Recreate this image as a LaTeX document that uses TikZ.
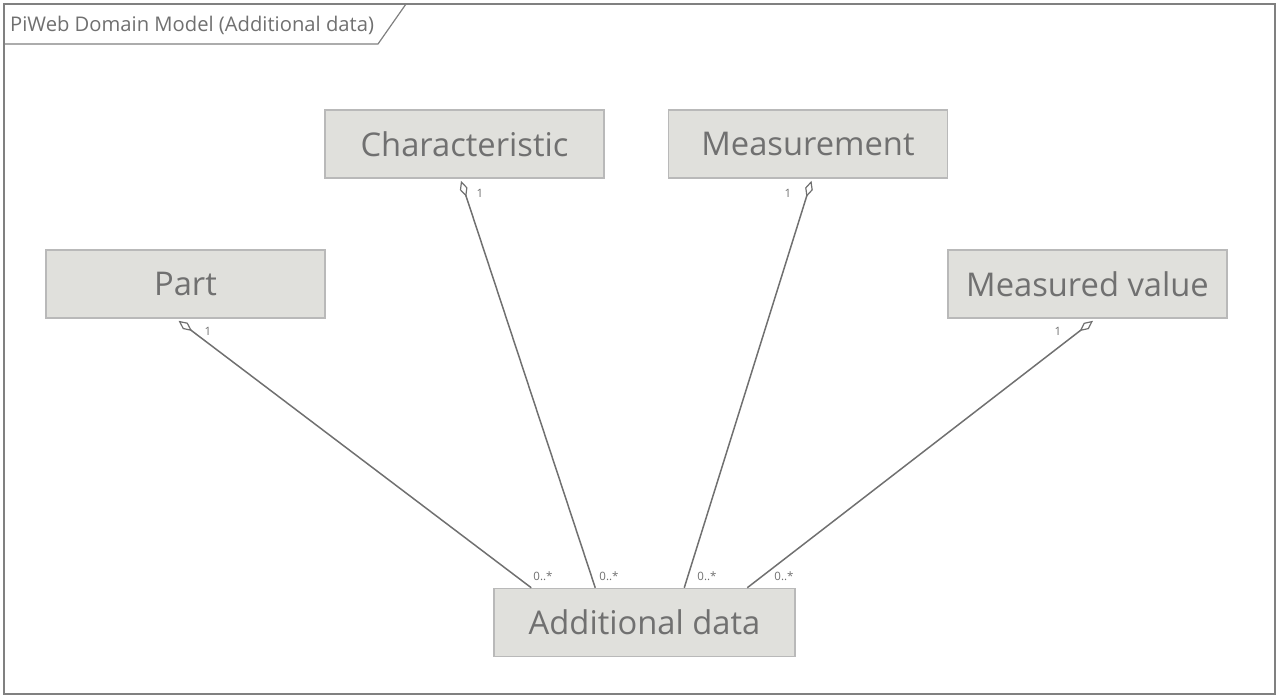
\documentclass[tikz,border=0pt]{standalone}
\usepackage{fontspec}
\setmainfont{Open Sans}
\usetikzlibrary{arrows.meta,calc}
\definecolor{boxfill}{RGB}{224,224,220}
\definecolor{boxdraw}{RGB}{185,185,185}
\definecolor{txt}{RGB}{112,112,112}
\definecolor{lin}{RGB}{112,112,112}
\definecolor{frame}{RGB}{128,128,128}
\tikzset{
  cls/.style={draw=boxdraw,fill=boxfill,line width=1.5pt,minimum width=279pt,minimum height=68pt,
    inner sep=0pt,text=txt,font=\fontsize{32.7}{38}\selectfont},
  agg/.style={draw=lin,line width=1.5pt,{Diamond[open,length=17pt,width=8pt,line width=1.2pt]}-},
  mult/.style={text=txt,font=\fontsize{11.5}{13}\selectfont,inner sep=0pt}
}
\begin{document}
\begin{tikzpicture}[x=1pt,y=-1pt]
\useasboundingbox (0,0) rectangle (1279,699);
\draw[frame,line width=1.5pt] (4,4) rectangle (1275,694);
\draw[frame,line width=1.2pt] (4,44) -- (378,44) -- (406,4);
\node[anchor=west,text=txt,font=\fontsize{20.2}{23}\selectfont,inner sep=0pt] (title) at (10,25) {PiWeb Domain Model (Additional data)};

\node[cls] (char) at (464.5,144) {Characteristic};
\node[cls] (meas) at (808,144) {Measurement};
\node[cls] (part) at (185.5,284) {Part};
\node[cls] (mval) at (1087.5,284) {Measured value};
\node[cls,minimum width=301pt] (ad) at (644.5,622.5) {Additional data};

\draw[agg] ($(part.south)+(-7,2)$) -- ($(ad.north west)+(38,0)$);
\draw[agg] ($(char.south)+(-3.5,2)$) -- ($(ad.north west)+(102,0)$);
\draw[agg] ($(meas.south)+(3.5,2)$) -- ($(ad.north west)+(191,0)$);
\draw[agg] ($(mval.south)+(5.5,2)$) -- ($(ad.north west)+(254,0)$);

\node[mult] (m1) at (208,331) {1};
\node[mult] (m2) at (480,193) {1};
\node[mult] (m3) at (788,193) {1};
\node[mult] (m4) at (1058,331) {1};
\node[mult] (n1) at (543,576) {0..*};
\node[mult] (n2) at (609,576) {0..*};
\node[mult] (n3) at (707,576) {0..*};
\node[mult] (n4) at (784,576) {0..*};
\end{tikzpicture}
\end{document}
